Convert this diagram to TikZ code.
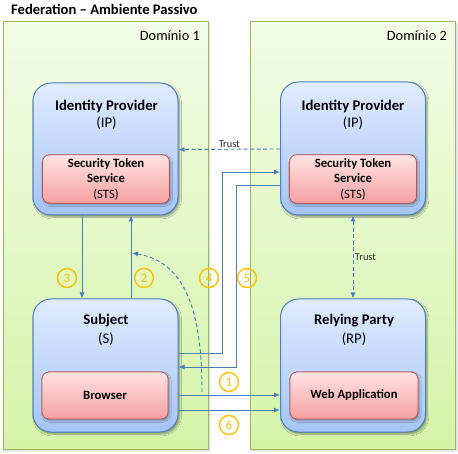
\documentclass[tikz,border=0pt]{standalone}
\usepackage{fontspec}
\setmainfont{Carlito}
\usetikzlibrary{arrows.meta,shadows.blur,positioning}
\definecolor{domtop}{HTML}{F2FCE6}
\definecolor{dombot}{HTML}{D5F4A8}
\definecolor{domline}{HTML}{9BBB59}
\definecolor{bluetop}{HTML}{E0EBFF}
\definecolor{bluebot}{HTML}{A5C4F4}
\definecolor{blueline}{HTML}{4F81BD}
\definecolor{redtop}{HTML}{FFE3E3}
\definecolor{redbot}{HTML}{F5A0A0}
\definecolor{redline}{HTML}{C0504D}
\definecolor{arrblue}{HTML}{4A7EBB}
\definecolor{numor}{HTML}{FFC000}
\tikzset{
  dombox/.style={draw=domline, line width=1pt, top color=domtop, bottom color=dombot,
    minimum width=205pt, minimum height=427pt,
    blur shadow={shadow xshift=1.2pt, shadow yshift=-1.5pt, shadow blur steps=4, shadow opacity=25}},
  bigbox/.style={draw=blueline, line width=1pt, rounded corners=18pt, top color=bluetop, bottom color=bluebot,
    minimum width=145pt, minimum height=133pt,
    blur shadow={shadow xshift=1.5pt, shadow yshift=-2pt, shadow blur steps=5, shadow opacity=40}},
  inbox/.style={draw=redline, line width=0.8pt, rounded corners=7pt, top color=redtop, bottom color=redbot,
    minimum width=127pt, minimum height=47pt, align=center, font=\bfseries\fontsize{12.7}{15.5}\selectfont,
    blur shadow={shadow xshift=1.2pt, shadow yshift=-1.5pt, shadow blur steps=4, shadow opacity=35}},
  ttlbox/.style={font=\bfseries\fontsize{14.7}{17}\selectfont, inner sep=0pt},
  subtbox/.style={font=\fontsize{14.7}{17}\selectfont, inner sep=0pt},
  arrline/.style={draw=arrblue, line width=0.9pt, -{Latex[length=6pt,width=5pt]}},
  darrline/.style={arrline, dash pattern=on 4pt off 2.5pt},
  numcirc/.style={circle, draw=numor, line width=1.4pt, minimum size=19pt, inner sep=0pt,
    text=numor, font=\fontsize{13}{15}\selectfont},
  lblnode/.style={font=\fontsize{10.4}{12}\selectfont, text=black!85, inner sep=1.5pt}
}
\begin{document}
\begin{tikzpicture}[x=1pt,y=-1pt]
\useasboundingbox (0,0) rectangle (458,454);
\node[font=\bfseries\fontsize{14.6}{17}\selectfont, anchor=west, inner sep=0pt] (title) at (11,9) {Federation -- Ambiente Passivo};
\node[dombox] (dom1) at (105.5,235.5) {};
\node[dombox] (dom2) at (352.5,235.5) {};
\node[font=\fontsize{14.3}{17}\selectfont, anchor=east, inner sep=0pt] (d1) at (200,36) {Domínio 1};
\node[font=\fontsize{14.3}{17}\selectfont, anchor=east, inner sep=0pt] (d2) at (447,36) {Domínio 2};
% boxes
\node[bigbox, minimum height=132pt] (ip1) at (105.5,149) {};
\node[bigbox] (ip2) at (353,148.5) {};
\node[bigbox] (subj) at (105.5,365.5) {};
\node[bigbox] (rp) at (353,365.5) {};
\node[inbox] (sts1) at (106,179) {Security Token\\Service\\{\mdseries(STS)}};
\node[inbox] (sts2) at (353,179) {Security Token\\Service\\{\mdseries(STS)}};
\node[inbox, minimum width=126pt] (br) at (105,395.5) {Browser};
\node[inbox, minimum width=128pt] (wa) at (354,395.5) {Web Application};
% titles
\node[ttlbox] (t1) at (106.5,106) {Identity Provider};
\node[subtbox] (t1b) at (106.5,123.5) {(IP)};
\node[ttlbox] (t2) at (353,106) {Identity Provider};
\node[subtbox] (t2b) at (353,123.5) {(IP)};
\node[ttlbox] (t3) at (106,321) {Subject};
\node[subtbox] (t3b) at (106,339) {(S)};
\node[ttlbox] (t4) at (354,321) {Relying Party};
\node[subtbox] (t4b) at (354,339) {(RP)};
% connectors
\draw[arrline] ([xshift=-23.5pt]ip1.south) -- ([xshift=-23.5pt]subj.north);
\draw[arrline] ([xshift=25.5pt]subj.north) -- ([xshift=25.5pt]ip1.south);
\coordinate (c4) at (222,172);
\draw[arrline] ([yshift=12.5pt]subj.east) -| (c4) -- (c4 -| ip2.west);
\coordinate (c5) at (236,185);
\draw[arrline] (c5 -| ip2.west) -- (c5) |- ([yshift=-1.5pt]subj.east);
\draw[arrline] ([yshift=-29.5pt]subj.east) -- ([yshift=-29.5pt]rp.west);
\draw[arrline] ([yshift=-44.5pt]subj.east) -- ([yshift=-44.5pt]rp.west);
\draw[darrline] ([yshift=-0.5pt]ip2.west) -- node[lblnode, above, pos=0.5] {Trust} ([yshift=-0.5pt]ip1.east);
\draw[darrline, {Latex[length=6pt,width=5pt]}-{Latex[length=6pt,width=5pt]}] (ip2.south) -- node[lblnode, right, pos=0.5] {Trust} (ip2.south |- rp.north);
\coordinate (cs) at (202,392);
\coordinate (ce) at (132,253);
\draw[darrline] (cs) .. controls (202,310) and (185,262) .. (ce);
% numbers
\node[numcirc] (n3) at (67,278) {3};
\node[numcirc] (n2) at (144,278) {2};
\node[numcirc] (n4) at (209,278) {4};
\node[numcirc] (n5) at (247,278) {5};
\node[numcirc] (n1) at (229,382) {1};
\node[numcirc] (n6) at (229,425) {6};
\end{tikzpicture}
\end{document}
